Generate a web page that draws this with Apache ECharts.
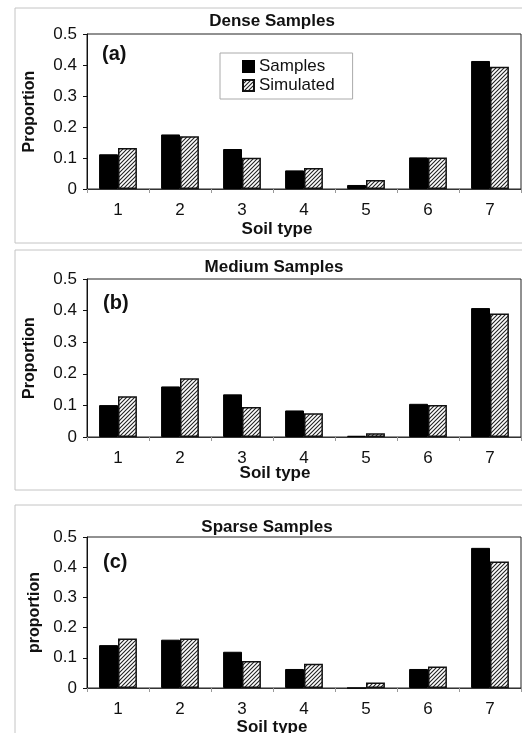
<!DOCTYPE html>
<html>
<head>
<meta charset="utf-8">
<script src="https://cdn.jsdelivr.net/npm/echarts@6/dist/echarts.min.js"></script>
<style>
html,body{margin:0;padding:0;background:#fff;}
#chart{width:522px;height:733px;}
</style>
</head>
<body>
<div id="chart"></div>
<script>
// ---- data ----
const categories = ['1', '2', '3', '4', '5', '6', '7'];
const seriesNames = ['Samples', 'Simulated'];
const panelTitles = ['Dense Samples', 'Medium Samples', 'Sparse Samples'];
const panelLetters = ['(a)', '(b)', '(c)'];
const yAxisNames = ['Proportion', 'Proportion', 'proportion'];
const xAxisName = 'Soil type';
const denseSamples = [0.112, 0.176, 0.129, 0.060, 0.013, 0.102, 0.413];
const denseSimulated = [0.132, 0.170, 0.101, 0.068, 0.029, 0.102, 0.394];
const mediumSamples = [0.101, 0.160, 0.135, 0.084, 0.004, 0.105, 0.408];
const mediumSimulated = [0.129, 0.186, 0.095, 0.075, 0.012, 0.101, 0.391];
const sparseSamples = [0.142, 0.160, 0.120, 0.063, 0.000, 0.063, 0.464];
const sparseSimulated = [0.164, 0.164, 0.089, 0.080, 0.018, 0.071, 0.419];
const yMin = 0, yMax = 0.5, yInterval = 0.1;

const panelSamples = [denseSamples, mediumSamples, sparseSamples];
const panelSimulated = [denseSimulated, mediumSimulated, sparseSimulated];

// ---- styles / layout ----
const FONT = '"Liberation Sans", Arial, sans-serif';
const TXT = '#111';
const grids = [
  { left: 87, top: 34, width: 434, height: 155 },
  { left: 87, top: 279, width: 434, height: 158 },
  { left: 87, top: 537, width: 434, height: 151 }
];
const frames = [
  { x: 15, y: 8, w: 520, h: 235 },
  { x: 15, y: 250, w: 520, h: 240 },
  { x: 15, y: 505, w: 520, h: 240 }
];
const titlePos = [[272, 21], [274, 267], [267, 527]];
const letterPos = [[102, 54], [103, 303], [103, 562]];
const xNamePos = [[277, 229], [275, 473], [272, 727]];
const yNameGap = [49, 49, 44];

function hatchPattern() {
  const c = document.createElement('canvas');
  c.width = 4; c.height = 4;
  const g = c.getContext('2d');
  g.fillStyle = '#fff';
  g.fillRect(0, 0, 4, 4);
  g.strokeStyle = '#222';
  g.lineWidth = 1.1;
  g.beginPath();
  g.moveTo(-1, 5); g.lineTo(5, -1);
  g.moveTo(-1, 1); g.lineTo(1, -1);
  g.moveTo(3, 5); g.lineTo(5, 3);
  g.stroke();
  return { image: c, repeat: 'repeat' };
}
const hatch = hatchPattern();

const chart = echarts.init(document.getElementById('chart'), null, { renderer: 'canvas' });

const xAxes = [], yAxes = [], series = [], graphics = [];
grids.forEach((g, i) => {
  xAxes.push({
    type: 'category', gridIndex: i, data: categories,
    axisLine: { lineStyle: { color: '#333', width: 1 } },
    axisTick: { show: true, length: 4, lineStyle: { color: '#999' } },
    axisLabel: { fontSize: 17, fontFamily: FONT, color: TXT, margin: 13 },
    splitLine: { show: false }
  });
  yAxes.push({
    type: 'value', gridIndex: i, min: yMin, max: yMax, interval: yInterval,
    name: yAxisNames[i], nameLocation: 'middle', nameGap: yNameGap[i],
    nameTextStyle: { fontSize: 16, fontWeight: 'bold', fontFamily: FONT, color: TXT },
    axisLine: { show: true, lineStyle: { color: '#111', width: 1 } },
    axisTick: { show: true, length: 4, lineStyle: { color: '#111' } },
    axisLabel: { fontSize: 17, fontFamily: FONT, color: TXT, margin: 10 },
    splitLine: { show: false }
  });
  series.push({
    name: seriesNames[0], type: 'bar', xAxisIndex: i, yAxisIndex: i,
    data: panelSamples[i], barGap: '0%', barCategoryGap: '39%',
    itemStyle: { color: '#000', borderColor: '#000', borderWidth: 1 },
    emphasis: { disabled: true }
  });
  series.push({
    name: seriesNames[1], type: 'bar', xAxisIndex: i, yAxisIndex: i,
    data: panelSimulated[i], barGap: '0%', barCategoryGap: '39%',
    itemStyle: { color: hatch, borderColor: '#111', borderWidth: 1.5 },
    emphasis: { disabled: true }
  });
  const f = frames[i];
  graphics.push({
    type: 'rect', shape: { x: f.x, y: f.y, width: f.w, height: f.h },
    style: { fill: 'none', stroke: '#c4c4c4', lineWidth: 1 }, z: -10, silent: true
  });
  graphics.push({
    type: 'text', x: titlePos[i][0], y: titlePos[i][1],
    style: { text: panelTitles[i], fill: TXT, font: 'bold 17px ' + FONT, textAlign: 'center', textVerticalAlign: 'middle' }
  });
  graphics.push({
    type: 'text', x: letterPos[i][0], y: letterPos[i][1],
    style: { text: panelLetters[i], fill: TXT, font: 'bold 20px ' + FONT, textAlign: 'left', textVerticalAlign: 'middle' }
  });
  graphics.push({
    type: 'text', x: xNamePos[i][0], y: xNamePos[i][1],
    style: { text: xAxisName, fill: TXT, font: 'bold 17px ' + FONT, textAlign: 'center', textVerticalAlign: 'middle' }
  });
});

chart.setOption({
  animation: false,
  backgroundColor: '#fff',
  grid: grids.map(g => Object.assign({ show: true, borderColor: '#222', borderWidth: 1, backgroundColor: 'transparent' }, g)),
  xAxis: xAxes,
  yAxis: yAxes,
  legend: {
    left: 220, top: 53, orient: 'vertical',
    data: seriesNames, icon: 'rect', itemWidth: 11, itemHeight: 11, itemGap: 2,
    padding: [5, 18, 5, 22], borderColor: '#aaa', borderWidth: 1, backgroundColor: '#fff',
    textStyle: { fontSize: 17, fontFamily: FONT, color: TXT },
    selectedMode: false
  },
  series: series,
  graphic: graphics
});
</script>
</body>
</html>
